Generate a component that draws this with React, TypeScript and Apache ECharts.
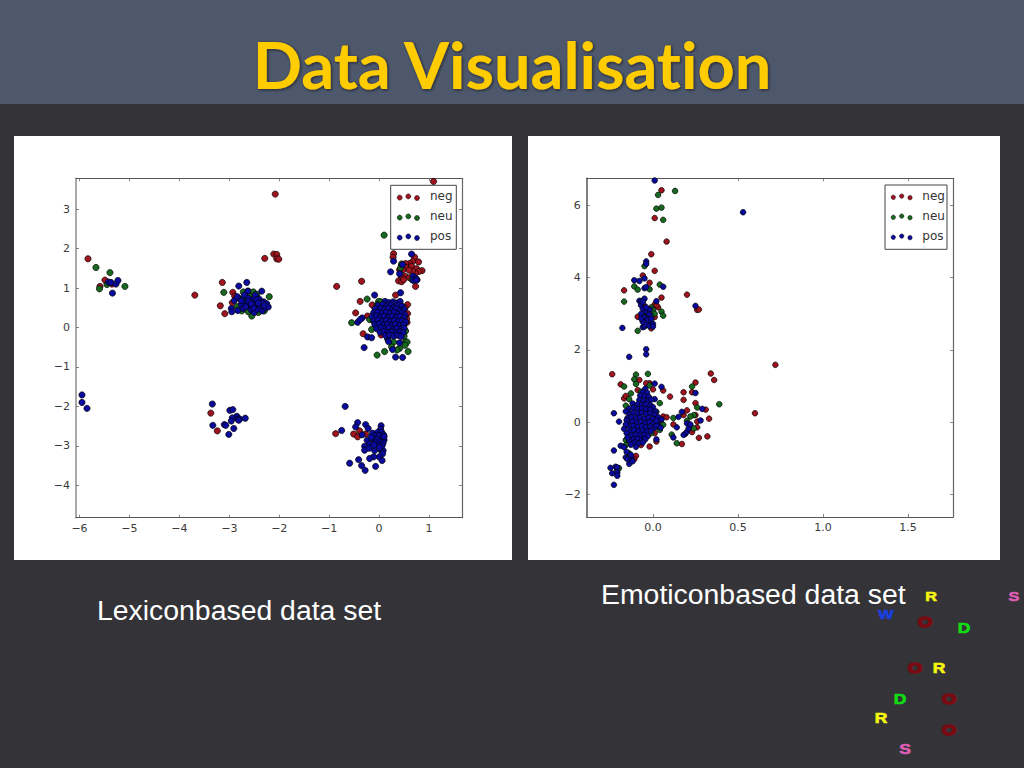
import React, { useEffect, useRef } from "react";
import * as echarts from "echarts";

const titleText = "Data Visualisation";
const leftCaption = "Lexiconbased data set";
const rightCaption = "Emoticonbased data set";
const seriesNames = ["neg", "neu", "pos"];
const seriesColors = ["#a01420", "#17691f", "#0a0a9e"];

const lexXTicks = [-6, -5, -4, -3, -2, -1, 0, 1];
const lexYTicks = [-4, -3, -2, -1, 0, 1, 2, 3];
const emoXTicks = [0, 0.5, 1, 1.5];
const emoYTicks = [-2, 0, 2, 4, 6];

const lexNeg = [
  [-5.83,1.74],[-5.49,1.2],[-5.59,1.04],[-5.35,1.1],[-3.69,.82],[-3.14,1.14],[-2.93,.89],[-3.18,.55],[-3.09,.35],[-2.94,.63],[-2.89,.79],
  [-2.7,.75],[-2.62,.52],[-2.78,.5],[-2.5,.68],
  [-2.08,3.38],[1.09,3.7],[-2.29,1.75],[-2.11,1.86],[-2.05,1.85],[-2.05,1.74],[-2.01,1.73],[-.85,1.04],[-.35,1.17],[.29,1.87],[.28,1.78],
  [.71,1.78],[.79,1.66],[.67,1.67],[.61,1.62],[.53,1.62],[.45,1.57],[.56,1.52],[.48,1.46],[.41,1.46],[.65,1.55],[.75,1.49],[.86,1.44],[.8,1.42],[.73,1.38],[.67,1.43],[.6,1.45],[.52,1.3],[.61,1.26],[.45,1.27],[.39,1.18],[.45,1.16],[.49,1.21],[.73,1.04],[.76,1.21],
  [.33,.82],[-.38,.66],[-.47,.37],[-.32,-.16],[-.23,.29],[-.14,.57],[-.07,.47],[.57,.58],[.57,.35],[.56,.13],[.04,-.19],[.52,.5],[.55,.22],
  [-3.37,-2.17],[-3.24,-2.62],[-.87,-2.69],[-.51,-2.7],[-.43,-2.77],[-.39,-2.62],[-.27,-2.7],
];
const lexNeu = [
  [-5.67,1.52],[-5.39,1.39],[-5.6,.98],[-5.45,1.09],[-5.09,1.04],[-3.11,.89],[-2.55,.29],[-2.84,.53],
  [-2.62,.92],[-2.72,.9],[-2.52,.9],[-2.45,.84],[-2.78,.72],[-2.6,.8],[-2.68,.68],[-2.42,.38],[-2.3,.42],[-2.2,.78],[-2.62,.4],[-2.75,.42],
  [.1,2.34],[.43,1.51],[.45,1.61],[.66,1.21],
  [-.24,.72],[-.55,.12],[-.04,-.7],[.11,-.61],[-.01,.66],[-.04,.58],[.03,.58],[.04,.65],[-.19,.2],[-.11,.16],[-.15,-.05],[.53,-.09],[.49,.03],[.29,-.37],[.25,-.49],[.41,-.53],[.36,-.57],[.53,-.36],[.56,-.37],[.52,-.45],[.58,-.61],[-.08,.08],[.5,-.22],
];
const lexPos = [
  [-5.42,1.15],[-5.37,1.14],[-5.27,1.1],[-5.23,1.19],[-5.34,.87],
  [-2.81,1.05],[-2.65,1.14],[-2.96,.48],[-2.95,.4],[-2.83,.43],[-2.35,.92],
  [-2.9,.68],[-2.84,.78],[-2.76,.58],[-2.72,.48],[-2.66,.62],[-2.63,.92],[-2.58,.55],[-2.56,.44],[-2.54,.7],[-2.5,.38],[-2.47,.6],[-2.44,.46],[-2.4,.72],[-2.38,.55],[-2.34,.42],[-2.31,.65],[-2.28,.5],[-2.25,.6],[-2.22,.52],[-2.62,.74],[-2.48,.82],[-2.7,.82],
  [-2.67,.53],[-2.61,.66],[-2.52,.5],[-2.45,.7],[-2.35,.62],[-2.3,.56],[-2.42,.62],[-2.56,.6],[-2.76,.68],
  [.65,1.86],[.29,1.68],[.23,1.41],[.41,1.36],[.47,1.59],[.68,1.3],[.73,1.25],[.69,1.19],[.75,1.2],
  [-.09,.82],[.43,.88],[-.34,.24],[-.43,.13],[-.38,.2],[-.3,-.51],[-.23,-.24],[-.15,-.26],[.33,-.75],[.47,-.76],[.17,-.29],[.19,-.36],[.27,-.56],[.41,-.39],
  [.12,.66],[.2,.63],[.28,.65],[.35,.62],[.42,.66],
  [-.02,.56],[.07,.58],[.15,.54],[.23,.57],[.31,.52],[.38,.56],[.46,.54],
  [-.08,.47],[.03,.48],[.11,.45],[.19,.48],[.27,.44],[.34,.47],[.42,.43],[.5,.46],
  [-.11,.37],[-.03,.39],[.06,.36],[.14,.38],[.22,.35],[.3,.38],[.38,.34],[.46,.37],[.52,.32],
  [-.14,.27],[-.06,.29],[.02,.26],[.1,.28],[.18,.25],[.26,.28],[.34,.25],[.42,.28],[.5,.24],
  [-.1,.17],[-.02,.19],[.07,.16],[.15,.18],[.23,.15],[.31,.18],[.39,.15],[.47,.17],[.53,.14],
  [-.08,.07],[.0,.09],[.09,.06],[.17,.08],[.25,.05],[.33,.08],[.41,.05],[.49,.07],
  [-.05,-.03],[.04,-.01],[.12,-.04],[.2,-.01],[.28,-.05],[.36,-.02],[.44,-.04],[.5,-.02],
  [.02,-.12],[.1,-.1],[.18,-.13],[.26,-.11],[.34,-.14],[.42,-.11],[.48,-.13],
  [.13,-.2],[.21,-.19],[.29,-.22],[.37,-.2],[.44,-.23],
  [-5.95,-1.71],[-5.95,-1.9],[-5.85,-2.05],
  [-3.34,-1.94],[-3.33,-2.48],[-2.99,-2.1],[-2.93,-2.08],[-2.85,-2.25],[-2.94,-2.29],[-2.96,-2.37],[-2.83,-2.32],[-2.79,-2.32],[-2.81,-2.35],[-2.68,-2.3],[-3.1,-2.46],[-3.07,-2.48],[-2.91,-2.56],[-3.01,-2.71],
  [-.68,-2],[-.75,-2.61],[-.43,-2.41],[-.47,-2.52],[-.27,-2.46],[-.22,-2.56],[-.34,-2.72],[.04,-2.49],[.03,-2.58],[-.13,-2.68],[-.24,-2.86],[-.29,-3.01],[-.29,-3.11],[-.19,-2.96],[-.2,-3.06],[-.09,-3.12],[.03,-3.1],[.08,-3.12],[.07,-3.2],[0,-3.28],[.06,-3.37],[-.11,-3.28],[-.19,-3.32],[-.41,-3.35],[-.59,-3.44],[-.35,-3.5],[-.28,-3.62],[-.07,-3.52],
  [-.03,-2.66],[.05,-2.65],[.09,-2.72],[-.08,-2.74],[0,-2.74],[.06,-2.8],[-.12,-2.82],[-.04,-2.84],[.1,-2.85],[-.16,-2.78],[.02,-2.9],[.08,-2.93],[-.07,-2.92],[-.02,-2.98],[.06,-3.0],[-.1,-2.98],[.1,-2.76],[.01,-3.04],
];
const emoNeg = [
  [.05,6.42],[.01,5.65],[.08,5],[-.01,4.65],[.01,4.19],[-.06,4.06],[-.02,3.86],[-.17,3.65],[.05,3.45],[.2,3.53],[.26,3.11],[.27,3.12],[-.09,2.92],[-.06,2.85],[-.05,3.22],[.01,3.26],[.03,3.18],[.02,3.24],[.01,2.91],[-.01,2.6],
  [.72,1.59],[.6,.25],[-.24,1.33],[-.19,1.05],[.34,1.35],[.36,1.17],[.25,1.1],[.23,.83],[.18,.83],[.18,.62],[.25,.53],[.1,.71],[.06,.88],[0,.91],[-.02,1.08],[-.04,1.08],[-.08,1.17],[-.09,.89],[-.17,.66],[-.16,.73],[.31,.35],[.2,.33],[.18,.2],[.33,.1],[.25,.2],[.26,.02],[.26,-.14],[.23,-.27],[.27,-.43],[.32,-.39],[.17,-.6],[.12,-.06],[.06,.16],[.08,.14],[.01,-.3],[.02,-.53],[-.02,-.67],[-.07,-.63],[-.1,-.93],[-.11,-1.02],[-.03,.34],[.05,-.03],
];
const emoNeu = [
  [.03,6.29],[.13,6.4],[.02,5.91],[.05,5.94],[.06,5.6],[-.05,4.32],[-.11,3.76],[-.09,3.67],[-.02,3.68],[.04,3.81],[-.17,3.34],[-.09,2.53],[.05,3.06],[.06,2.95],[-.01,3.18],[0,3.11],[.01,3],[-.01,2.93],[-.05,2.95],[-.03,3.02],
  [-.1,1.32],[-.03,1.34],[-.11,1.19],[-.1,1.06],[-.02,1.02],[-.17,.99],[-.13,.8],[-.14,.64],[-.07,.85],[.04,.53],[.23,.99],[.39,.5],[.26,.41],[.02,.29],[.12,.12],[.24,.2],[.22,.16],[.2,.04],[.24,-.17],[.11,-.34],[.14,-.58],[.06,-.07],[.04,-.21],[-.01,-.3],[-.16,-.49],[-.16,-.63],[-.14,-.86],[-.16,.46],[-.21,-1.32],[-.2,-1.27],
];
const emoPos = [
  [.01,6.69],[.53,5.81],[-.04,4.45],[-.04,4.38],[-.11,3.93],[-.08,3.91],[-.05,3.98],[.06,3.75],[-.05,3.71],[-.04,3.74],[-.08,3.36],[-.07,3.35],[-.05,3.42],[-.07,3.24],[-.06,3.33],[.02,3.35],[.25,3.22],[-.18,2.61],[-.14,1.81],[-.04,2.02],[-.04,1.88],[-.06,2.63],[-.05,2.65],
  [-.06,3.14],[-.04,3.07],[-.07,3],[-.02,3.12],[-.05,2.9],[-.02,2.98],[-.06,2.78],[-.03,2.84],[-.01,2.76],[-.04,2.7],[-.02,2.66],[0,2.72],[-.07,2.87],[-.04,3.18],[-.01,2.87],[.0,2.65],
  [-.23,.25],[-.2,.02],[-.17,-.18],[-.23,-.78],[-.19,-.65],[-.17,-.69],[-.16,-.97],[-.14,-1.15],[-.15,-1.02],[-.125,-1],[-.155,-.82],[-.25,-1.26],[-.22,-1.23],[-.21,-1.25],[-.24,-1.41],[-.21,-1.39],[-.21,-1.48],[-.23,-1.73],[-.13,-.9],[-.12,-1.08],
  [.01,1.07],[.05,.98],[.01,.64],[.25,.81],[.29,.37],[.17,.29],[.15,.15],[.28,.05],[.14,-.14],[.12,-.42],[.02,-.47],[.2,-.03],[.19,-.32],[.18,-.35],[.2,-.26],[.21,-.17],[.22,-.06],
  [-.045,.93],[-.06,.84],[-.035,.82],[-.075,.74],[-.05,.72],[-.025,.7],[-.08,.62],[-.055,.6],[-.03,.58],[-.01,.63],
  [-.12,.52],[-.09,.5],[-.065,.48],[-.04,.5],[-.015,.47],[.0,.42],
  [-.14,.38],[-.115,.4],[-.09,.37],[-.065,.38],[-.04,.36],[-.015,.35],[.015,.3],
  [-.14,.25],[-.115,.26],[-.09,.24],[-.065,.26],[-.04,.23],[-.015,.25],[.01,.2],[.03,.14],
  [-.15,.12],[-.125,.14],[-.1,.11],[-.075,.13],[-.05,.1],[-.025,.12],[0,.09],[.03,.04],[.05,.08],
  [-.145,0],[-.12,.02],[-.095,-.01],[-.07,.01],[-.045,-.02],[-.02,0],[.005,-.03],[.03,-.08],
  [-.14,-.12],[-.115,-.1],[-.09,-.13],[-.065,-.11],[-.04,-.14],[-.015,-.12],[.01,-.15],
  [-.135,-.24],[-.11,-.22],[-.085,-.25],[-.06,-.23],[-.035,-.26],[-.012,-.24],
  [-.125,-.36],[-.1,-.34],[-.075,-.37],[-.05,-.35],[-.03,-.38],
  [-.115,-.47],[-.09,-.46],[-.065,-.49],[-.045,-.47],[-.11,-.56],[-.085,-.58],[-.06,-.56],[-.14,-.5],
  [-.16,.3],[-.155,.06],[-.16,-.06],[-.155,-.3],[-.15,-.42],[-.13,-.62],[-.1,-.68],[.02,-.08],[.045,-.15],[.02,.05],
];

const pageLetters = [
  { t: "R", c: "#f5f50f", s: 13 }, { t: "S", c: "#dd5db5", s: 13 }, { t: "W", c: "#1a3fe0", s: 13 },
  { t: "O", c: "#7a0a12", s: 15 }, { t: "D", c: "#12dd12", s: 14 }, { t: "O", c: "#7a0a12", s: 15 },
  { t: "R", c: "#f5f50f", s: 14 }, { t: "D", c: "#12dd12", s: 14 }, { t: "O", c: "#7a0a12", s: 15 },
  { t: "R", c: "#f5f50f", s: 14 }, { t: "O", c: "#7a0a12", s: 15 }, { t: "S", c: "#dd5db5", s: 14 },
];
const letterPlaces = [[931,597],[1014,597],[886,615],[925,622],[964,628],[915,668],[939,668],[900,699],[949,699],[881,718],[949,730],[905,749]];

const minusFmt = (v: number) => String(v).replace("-", "\u2212");
const oneDecFmt = (v: number) => v.toFixed(1).replace("-", "\u2212");
const tickFont = { fontFamily: "DejaVu Sans", fontSize: 11, color: "#3a3a3a" };

function makeAxes(gridIndex: number, xr: number[], yr: number[], xt: number[], yt: number[], xf: any, yf: any, spine: string) {
  const base = (min: number, max: number, ticks: number[], pos: string, fmt: any, shown: boolean, lineColor: string, w: number, margin: number) => ({
    type: "value", gridIndex, min, max, position: pos, splitLine: { show: false },
    axisLine: { show: true, onZero: false, lineStyle: { color: lineColor, width: w } },
    axisTick: { show: true, inside: true, length: 3, customValues: ticks, lineStyle: { color: "#666", width: 0.8 } },
    axisLabel: shown ? { show: true, customValues: ticks, formatter: fmt, margin, ...tickFont } : { show: false },
  });
  return {
    x: [base(xr[0], xr[1], xt, "bottom", xf, true, "#555", 1.2, 5), base(xr[0], xr[1], xt, "top", xf, false, "#555", 1.2, 5)],
    y: [base(yr[0], yr[1], yt, "left", yf, true, spine, 1.5, 6), base(yr[0], yr[1], yt, "right", yf, false, "#666", 1.2, 6)],
  };
}

function legendBox(x: number, y: number, w: number, h: number, dots: number[], textX: number, r: number) {
  const dy = [0.3, -0.9, 0.7];
  const items: any[] = [{ type: "rect", z: 50, shape: { x, y, width: w, height: h }, style: { fill: "#fff", stroke: "#444", lineWidth: 1 } }];
  seriesNames.forEach((n, i) => {
    const cy = y + 12 + i * 20;
    dots.forEach((dx, j) => items.push({ type: "circle", z: 51, shape: { cx: dx, cy: cy + dy[j], r }, style: { fill: seriesColors[i], stroke: "#000", lineWidth: 0.5 } }));
    items.push({ type: "text", z: 51, x: textX, y: cy - 1, style: { text: n, fontFamily: "DejaVu Sans", fontSize: 12, fill: "#333", textVerticalAlign: "middle" } });
  });
  return items;
}

export default function App() {
  const ref = useRef<HTMLDivElement>(null);
  useEffect(() => {
    document.body.style.margin = "0";
    document.body.style.background = "#343438";
    const chart = echarts.init(ref.current!, undefined, { renderer: "svg" });
    const a = makeAxes(0, [-6.07, 1.66], [-4.82, 3.78], lexXTicks, lexYTicks, minusFmt, minusFmt, "#8c8c8c");
    const b = makeAxes(1, [-0.39, 1.765], [-2.62, 6.75], emoXTicks, emoYTicks, oneDecFmt, minusFmt, "#555");
    const mk = (data: number[][], i: number, axis: number, size: number) => ({
      type: "scatter", name: seriesNames[i], data, xAxisIndex: axis, yAxisIndex: axis, symbolSize: size, z: 3 + i,
      itemStyle: { color: seriesColors[i], opacity: 1, borderColor: "#000", borderWidth: 0.7 },
    });
    const graphic: any[] = [
      { type: "rect", z: -10, shape: { x: 0, y: 0, width: 1024, height: 768 }, style: { fill: "#343438" } },
      { type: "rect", z: -9, shape: { x: 0, y: 0, width: 1024, height: 104 }, style: { fill: "#4e586c" } },
      { type: "rect", z: -9, shape: { x: 14, y: 136, width: 498, height: 424 }, style: { fill: "#fff" } },
      { type: "rect", z: -9, shape: { x: 528, y: 136, width: 472, height: 424 }, style: { fill: "#fff" } },
      { type: "text", z: 60, x: 512, y: 64, style: { text: titleText, fontFamily: "Lato", fontWeight: "bold", fontSize: 64.8, fill: "#ffcc00", textAlign: "center", textVerticalAlign: "middle", textShadowColor: "rgba(20,20,20,0.7)", textShadowBlur: 3, textShadowOffsetX: 1, textShadowOffsetY: 1 } },
      { type: "text", z: 60, x: 97, y: 610, style: { text: leftCaption, fontFamily: "Liberation Sans", fontSize: 28.4, fill: "#fff", textVerticalAlign: "middle" } },
      { type: "text", z: 60, x: 601, y: 594, style: { text: rightCaption, fontFamily: "Liberation Sans", fontSize: 28.4, fill: "#fff", textVerticalAlign: "middle" } },
      ...pageLetters.map((l, i) => ({ type: "text", z: 60, x: letterPlaces[i][0], y: letterPlaces[i][1], scaleX: 1.25, style: { text: l.t, fontFamily: "Liberation Sans", fontWeight: "bold", fontSize: l.s, fill: l.c, stroke: l.c, lineWidth: l.t === "O" ? 1.6 : 0.6, textAlign: "center", textVerticalAlign: "middle" } })),
      ...legendBox(390.7, 185.3, 65.6, 64, [399.7, 408.3, 417], 430, 2.5),
      ...legendBox(885, 185, 62, 64.3, [893.3, 901.7, 910], 922.3, 2.2),
    ];
    chart.setOption({
      animation: false,
      grid: [
        { left: 76, top: 178.3, width: 386, height: 339.4 },
        { left: 586.7, top: 178.3, width: 366.3, height: 338.7 },
      ],
      xAxis: [...a.x, ...b.x],
      yAxis: [...a.y, ...b.y],
      series: [
        mk(lexNeg, 0, 0, 6.2), mk(lexNeu, 1, 0, 6.2), mk(lexPos, 2, 0, 6.2),
        mk(emoNeg, 0, 2, 5.6), mk(emoNeu, 1, 2, 5.6), mk(emoPos, 2, 2, 5.6),
      ],
      graphic,
    });
    return () => chart.dispose();
  }, []);
  return <div ref={ref} style={{ position: "absolute", left: 0, top: 0, width: 1024, height: 768, fontVariantLigatures: "none" }} />;
}
